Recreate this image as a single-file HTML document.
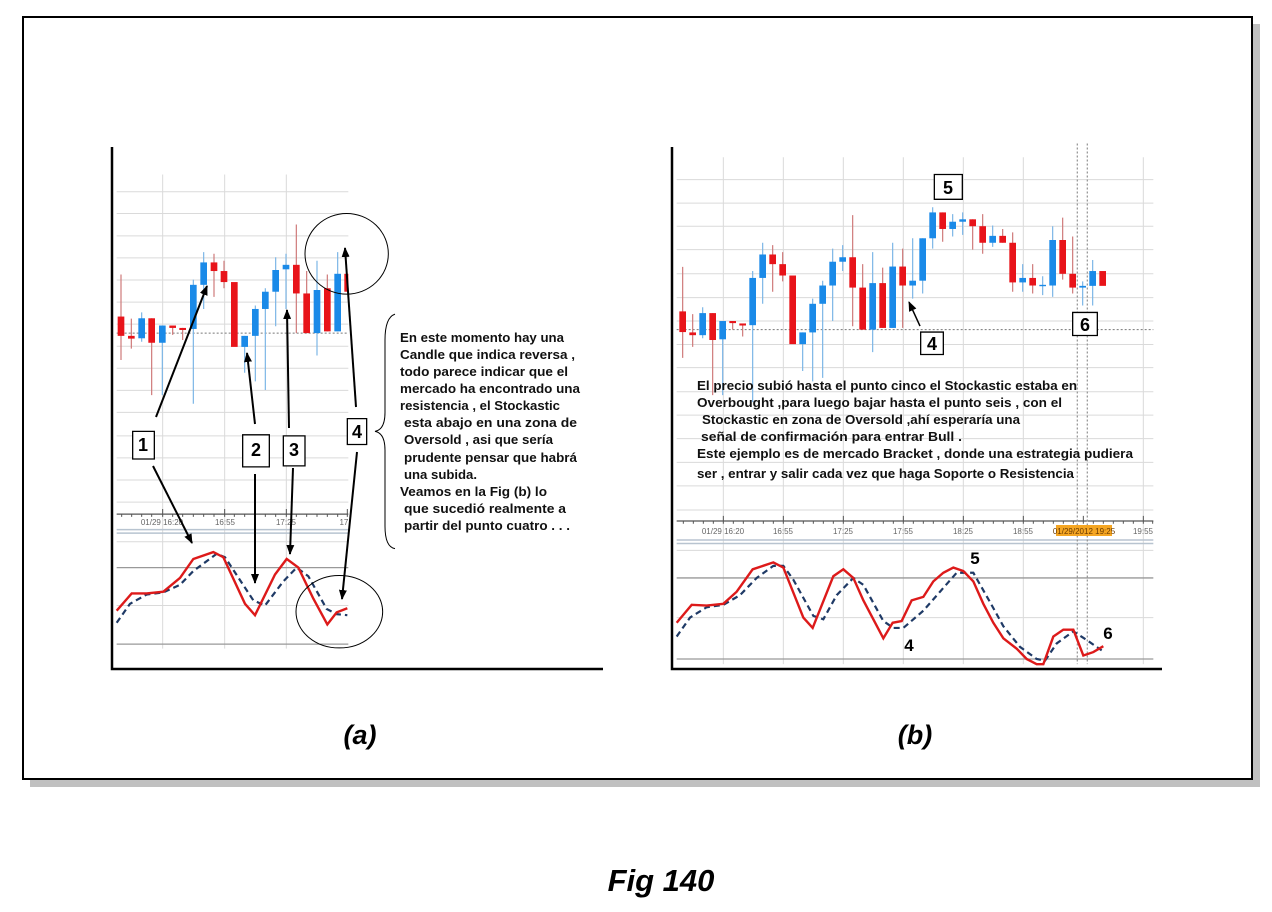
<!DOCTYPE html>
<html><head><meta charset="utf-8"><style>
html,body{margin:0;padding:0;background:#fff;}
svg{display:block;}
text{font-family:"Liberation Sans",Arial,sans-serif;}
</style></head><body>
<svg width="1272" height="912" viewBox="0 0 1272 912" xmlns="http://www.w3.org/2000/svg">
<defs>
<marker id="ah" markerWidth="10" markerHeight="8" refX="9" refY="4" orient="auto" markerUnits="userSpaceOnUse"><path d="M0,0 L10,4 L0,8 z" fill="#000"/></marker>
<clipPath id="cl"><rect x="0" y="0" width="715" height="1600"/></clipPath>
</defs>
<rect x="30" y="24" width="1230" height="763" fill="#c0c0c0"/>
<rect x="23" y="17" width="1229" height="762" fill="#fff" stroke="#000" stroke-width="2"/>

<!-- LEFT CHART -->
<g transform="translate(110,140) scale(0.33333,0.34483)">
<g stroke="#dadada" stroke-width="1" vector-effect="non-scaling-stroke">
<path vector-effect="non-scaling-stroke" d="M20,150H715M20,213H715M20,278H715M20,342H715M20,406H715M20,470H715M20,534H715M20,598H715M20,662H715M20,726H715M20,790H715M20,858H715M20,922H715M20,986H715M20,1050H715M158,100V1475M344,100V1475M529,100V1475M20,1165H715M20,1350H715"/>
</g>
<path vector-effect="non-scaling-stroke" d="M20,1240H715M20,1462H715" stroke="#999" stroke-width="1.3"/>
<path vector-effect="non-scaling-stroke" d="M20,1130H715M20,1140H715" stroke="#b8c4d0" stroke-width="1.5"/>
<path vector-effect="non-scaling-stroke" d="M20,1085H715" stroke="#555" stroke-width="1.2"/>
<path vector-effect="non-scaling-stroke" d="M35,1085v8M65,1085v8M95,1085v8M125,1085v8M158,1070v23M188,1085v8M218,1085v8M250,1085v8M281,1085v8M312,1085v8M344,1070v23M373,1085v8M404,1085v8M436,1085v8M466,1085v8M497,1085v8M529,1070v23M559,1085v8M590,1085v8M621,1085v8M652,1085v8M683,1085v8M712,1070v23" stroke="#555" stroke-width="1"/>
<path vector-effect="non-scaling-stroke" d="M20,560H715" stroke="#777" stroke-width="1" stroke-dasharray="2,2"/>
<g clip-path="url(#cl)">
<g stroke-width="1.2">
<path vector-effect="non-scaling-stroke" stroke="#cf7a7a" d="M33,390V638M64,518V605M125,517V740M188,538V565M218,545V580M312,330V455M342,350V430M559,245V560M590,380V560M652,390V555"/>
<path vector-effect="non-scaling-stroke" stroke="#7cb6e6" d="M95,500V585M157,538V740M250,405V765M281,325V490M404,568V675M436,480V700M466,430V725M497,340V540M528,330V490M621,350V625M683,325V555"/>
</g>
<g fill="#e8141a">
<rect x="23" y="512" width="20" height="56"/><rect x="54" y="568" width="20" height="8"/><rect x="115" y="517" width="20" height="71"/><rect x="178" y="538" width="20" height="7"/><rect x="208" y="545" width="20" height="6"/><rect x="302" y="355" width="20" height="25"/><rect x="332" y="380" width="20" height="32"/><rect x="363" y="412" width="20" height="188"/><rect x="549" y="362" width="20" height="83"/><rect x="580" y="445" width="20" height="115"/><rect x="642" y="430" width="20" height="125"/><rect x="703" y="388" width="20" height="52"/>
</g>
<g fill="#1a8ae8">
<rect x="85" y="517" width="20" height="58"/><rect x="147" y="538" width="20" height="50"/><rect x="240" y="420" width="20" height="128"/><rect x="271" y="355" width="20" height="65"/><rect x="394" y="568" width="20" height="32"/><rect x="426" y="490" width="20" height="78"/><rect x="456" y="440" width="20" height="50"/><rect x="487" y="377" width="20" height="63"/><rect x="518" y="362" width="20" height="13"/><rect x="611" y="435" width="20" height="125"/><rect x="673" y="388" width="20" height="167"/>
</g>
</g>
<polyline vector-effect="non-scaling-stroke" fill="none" stroke="#1f3a66" stroke-width="2.2" stroke-dasharray="6,4" points="20,1400 60,1345 110,1318 160,1312 210,1290 250,1250 320,1200 345,1210 430,1335 465,1350 520,1280 560,1240 595,1265 650,1360 680,1375 712,1378"/>
<polyline vector-effect="non-scaling-stroke" fill="none" stroke="#dd1a1a" stroke-width="2.4" points="20,1365 65,1315 110,1315 160,1310 210,1270 250,1215 310,1195 340,1210 405,1345 435,1378 495,1260 530,1215 565,1240 610,1330 652,1405 680,1370 712,1358"/>
<ellipse vector-effect="non-scaling-stroke" cx="710" cy="330" rx="125" ry="117" fill="none" stroke="#000" stroke-width="1"/>
<ellipse vector-effect="non-scaling-stroke" cx="688" cy="1368" rx="130" ry="105" fill="none" stroke="#000" stroke-width="1"/>
<path vector-effect="non-scaling-stroke" d="M855,505 Q825,515 825,580 L825,790 Q825,840 795,845 Q825,850 825,900 L825,1120 Q825,1180 855,1185" fill="none" stroke="#000" stroke-width="1"/>
<g fill="#fff" stroke="#000" stroke-width="1.3">
<rect vector-effect="non-scaling-stroke" x="68" y="845" width="65" height="80"/>
<rect vector-effect="non-scaling-stroke" x="398" y="855" width="80" height="93"/>
<rect vector-effect="non-scaling-stroke" x="520" y="858" width="65" height="87"/>
<rect vector-effect="non-scaling-stroke" x="712" y="808" width="58" height="75"/>
</g>
</g>
<g font-size="8" fill="#666" text-anchor="middle">
<text x="162" y="525">01/29 16:20</text><text x="225" y="525">16:55</text><text x="286" y="525">17:25</text><text x="345" y="525">17:</text>
</g>
<rect x="349" y="514" width="20" height="14" fill="#fff"/>
<path d="M112,147V669H603" fill="none" stroke="#000" stroke-width="2.5"/>
<g stroke="#000" stroke-width="2" marker-end="url(#ah)">
<line x1="156" y1="417" x2="207" y2="286"/>
<line x1="153" y1="466" x2="192" y2="543"/>
<line x1="255" y1="424" x2="247" y2="353"/>
<line x1="255" y1="474" x2="255" y2="583"/>
<line x1="289" y1="428" x2="287" y2="310"/>
<line x1="293" y1="468" x2="290" y2="554"/>
<line x1="356" y1="407" x2="345" y2="248"/>
<line x1="357" y1="452" x2="342" y2="599"/>
</g>
<g font-size="18" font-weight="bold" text-anchor="middle">
<text x="143" y="451">1</text><text x="256" y="456">2</text><text x="294" y="456">3</text><text x="357" y="438">4</text>
</g>
<g font-size="12.5" font-weight="bold" fill="#111" lengthAdjust="spacingAndGlyphs">
<text x="400" y="342" textLength="164" lengthAdjust="spacingAndGlyphs">En este momento hay una</text>
<text x="400" y="359" textLength="175" lengthAdjust="spacingAndGlyphs">Candle que indica reversa ,</text>
<text x="400" y="376" textLength="168" lengthAdjust="spacingAndGlyphs">todo parece indicar que el</text>
<text x="400" y="393" textLength="180" lengthAdjust="spacingAndGlyphs">mercado ha encontrado una</text>
<text x="400" y="410" textLength="160" lengthAdjust="spacingAndGlyphs">resistencia , el Stockastic</text>
<text x="404" y="427" textLength="173" lengthAdjust="spacingAndGlyphs">esta  abajo en una zona de</text>
<text x="404" y="444" textLength="149" lengthAdjust="spacingAndGlyphs">Oversold , asi que sería</text>
<text x="404" y="462" textLength="173" lengthAdjust="spacingAndGlyphs">prudente pensar que habrá</text>
<text x="404" y="479" textLength="73" lengthAdjust="spacingAndGlyphs">una subida.</text>
<text x="400" y="496" textLength="147" lengthAdjust="spacingAndGlyphs">Veamos en la Fig (b) lo</text>
<text x="404" y="513" textLength="162" lengthAdjust="spacingAndGlyphs">que sucedió realmente  a</text>
<text x="404" y="530" textLength="166" lengthAdjust="spacingAndGlyphs">partir del punto cuatro . . .</text>
</g>

<!-- RIGHT CHART -->
<g transform="translate(670,140) scale(0.33333,0.34483)">
<path vector-effect="non-scaling-stroke" stroke="#dadada" stroke-width="1" d="M20,115H1450M20,183H1450M20,250H1450M20,318H1450M20,388H1450M20,457H1450M20,525H1450M20,593H1450M20,660H1450M20,730H1450M20,798H1450M20,866H1450M20,935H1450M20,1003H1450M20,1073H1450M160,50V1520M340,50V1520M520,50V1520M700,50V1520M880,50V1520M1060,50V1520M1420,50V1520M20,1190H1450M20,1385H1450"/>
<path vector-effect="non-scaling-stroke" d="M20,1270H1450M20,1505H1450" stroke="#999" stroke-width="1.3"/>
<path vector-effect="non-scaling-stroke" d="M20,1160H1450M20,1170H1450" stroke="#b8c4d0" stroke-width="1.5"/>
<path vector-effect="non-scaling-stroke" d="M20,1105H1450" stroke="#555" stroke-width="1.2"/>
<path vector-effect="non-scaling-stroke" d="M40,1105v8M70,1105v8M100,1105v8M130,1105v8M160,1090v23M190,1105v8M220,1105v8M250,1105v8M280,1105v8M310,1105v8M340,1090v23M370,1105v8M400,1105v8M430,1105v8M460,1105v8M490,1105v8M520,1090v23M550,1105v8M580,1105v8M610,1105v8M640,1105v8M670,1105v8M700,1090v23M730,1105v8M760,1105v8M790,1105v8M820,1105v8M850,1105v8M880,1090v23M910,1105v8M940,1105v8M970,1105v8M1000,1105v8M1030,1105v8M1060,1090v23M1090,1105v8M1120,1105v8M1150,1105v8M1180,1105v8M1210,1105v8M1240,1090v23M1270,1105v8M1300,1105v8M1330,1105v8M1360,1105v8M1390,1105v8M1420,1090v23M1448,1105v8" stroke="#555" stroke-width="1"/>
<path vector-effect="non-scaling-stroke" d="M20,550H1450" stroke="#777" stroke-width="1" stroke-dasharray="2,2"/>
<path vector-effect="non-scaling-stroke" d="M1222,10V1520M1252,10V1520" stroke="#999" stroke-width="1.3" stroke-dasharray="2,2"/>
<g stroke-width="1.2">
<path vector-effect="non-scaling-stroke" stroke="#cf7a7a" d="M38,368V632M68,505V600M128,502V740M188,525V550M218,532V570M308,305V440M338,325V410M548,218V540M578,360V550M638,370V545M698,315V545M818,210V295M908,230V318M938,215V330M998,258V298M1028,268V440M1088,360V445M1178,225V405M1208,280V445"/>
<path vector-effect="non-scaling-stroke" stroke="#7cb6e6" d="M98,485V575M158,525V740M248,380V760M278,298V475M398,558V670M428,460V700M458,408V690M488,315V525M518,305V380M608,325V615M668,298V545M728,285V460M758,285V445M788,195V315M848,215V280M878,210V275M968,248V310M1058,360V440M1118,395V450M1148,250V455M1238,410V480M1268,348V480"/>
</g>
<g fill="#e8141a">
<rect x="28" y="497" width="20" height="60"/><rect x="58" y="558" width="20" height="8"/><rect x="118" y="502" width="20" height="78"/><rect x="178" y="525" width="20" height="6"/><rect x="208" y="532" width="20" height="6"/><rect x="298" y="332" width="20" height="28"/><rect x="328" y="360" width="20" height="33"/><rect x="358" y="393" width="20" height="199"/><rect x="538" y="340" width="20" height="88"/><rect x="568" y="428" width="20" height="122"/><rect x="628" y="415" width="20" height="130"/><rect x="688" y="367" width="20" height="55"/><rect x="808" y="210" width="20" height="48"/><rect x="898" y="230" width="20" height="20"/><rect x="928" y="250" width="20" height="48"/><rect x="988" y="278" width="20" height="20"/><rect x="1018" y="298" width="20" height="115"/><rect x="1078" y="400" width="20" height="22"/><rect x="1168" y="290" width="20" height="98"/><rect x="1198" y="388" width="20" height="40"/><rect x="1288" y="380" width="20" height="43"/>
</g>
<g fill="#1a8ae8">
<rect x="88" y="502" width="20" height="64"/><rect x="148" y="525" width="20" height="53"/><rect x="238" y="400" width="20" height="137"/><rect x="268" y="332" width="20" height="68"/><rect x="388" y="558" width="20" height="34"/><rect x="418" y="475" width="20" height="83"/><rect x="448" y="422" width="20" height="53"/><rect x="478" y="353" width="20" height="69"/><rect x="508" y="340" width="20" height="13"/><rect x="598" y="415" width="20" height="135"/><rect x="658" y="367" width="20" height="178"/><rect x="718" y="408" width="20" height="14"/><rect x="748" y="285" width="20" height="123"/><rect x="778" y="210" width="20" height="75"/><rect x="838" y="237" width="20" height="21"/><rect x="868" y="230" width="20" height="7"/><rect x="958" y="278" width="20" height="20"/><rect x="1048" y="400" width="20" height="13"/><rect x="1108" y="420" width="20" height="4"/><rect x="1138" y="290" width="20" height="132"/><rect x="1228" y="423" width="20" height="5"/><rect x="1258" y="380" width="20" height="43"/>
</g>
<polyline vector-effect="non-scaling-stroke" fill="none" stroke="#1f3a66" stroke-width="2.2" stroke-dasharray="6,4" points="20,1440 60,1385 110,1355 160,1348 210,1320 260,1270 310,1235 340,1235 370,1275 430,1380 460,1390 500,1320 550,1270 580,1290 640,1395 670,1415 700,1415 760,1365 810,1310 860,1255 910,1255 960,1340 1000,1410 1050,1470 1100,1505 1125,1510 1160,1460 1210,1425 1250,1450 1295,1480"/>
<polyline vector-effect="non-scaling-stroke" fill="none" stroke="#dd1a1a" stroke-width="2.4" points="20,1400 65,1348 110,1350 160,1345 200,1310 248,1245 310,1225 340,1240 400,1385 428,1415 490,1265 520,1245 550,1270 580,1335 640,1445 668,1400 695,1395 725,1335 760,1325 790,1280 820,1255 850,1240 880,1250 910,1280 940,1345 970,1400 1000,1445 1040,1475 1070,1505 1100,1520 1120,1520 1150,1440 1180,1420 1210,1420 1240,1495 1270,1485 1300,1468"/>
<g fill="#fff" stroke="#000" stroke-width="1.3">
<rect vector-effect="non-scaling-stroke" x="793" y="100" width="84" height="72"/>
<rect vector-effect="non-scaling-stroke" x="752" y="557" width="68" height="65"/>
<rect vector-effect="non-scaling-stroke" x="1208" y="500" width="74" height="67"/>
</g>
</g>
<rect x="1056" y="525" width="56" height="11" fill="#f5a623"/>
<g font-size="8" fill="#666" text-anchor="middle">
<text x="723" y="534">01/29 16:20</text><text x="783" y="534">16:55</text><text x="843" y="534">17:25</text><text x="903" y="534">17:55</text><text x="963" y="534">18:25</text><text x="1023" y="534">18:55</text><text x="1084" y="534" fill="#6a3a00">01/29/2012 19:25</text><text x="1143" y="534">19:55</text>
</g>
<path d="M672,147V669H1162" fill="none" stroke="#000" stroke-width="2.5"/>
<line x1="920" y1="326" x2="909" y2="302" stroke="#000" stroke-width="1.5" marker-end="url(#ah)"/>
<g font-size="18" font-weight="bold" text-anchor="middle">
<text x="948" y="194">5</text><text x="932" y="350">4</text><text x="1085" y="331">6</text>
<text x="975" y="564" font-size="17">5</text><text x="909" y="651" font-size="17">4</text><text x="1108" y="639" font-size="17">6</text>
</g>
<g font-size="12.5" font-weight="bold" fill="#111">
<text x="697" y="390" textLength="380" lengthAdjust="spacingAndGlyphs">El precio subió  hasta el punto cinco el Stockastic estaba en</text>
<text x="697" y="407" textLength="365" lengthAdjust="spacingAndGlyphs">Overbought ,para luego bajar hasta el punto seis  , con el</text>
<text x="702" y="424" textLength="318" lengthAdjust="spacingAndGlyphs">Stockastic en zona de Oversold ,ahí esperaría una</text>
<text x="701" y="441" textLength="261" lengthAdjust="spacingAndGlyphs">señal de confirmación  para entrar  Bull .</text>
<text x="697" y="458" textLength="436" lengthAdjust="spacingAndGlyphs">Este ejemplo es de mercado Bracket ,  donde una estrategia pudiera</text>
<text x="697" y="478" textLength="377" lengthAdjust="spacingAndGlyphs">ser , entrar y salir cada vez que haga Soporte o Resistencia</text>
</g>

<g font-size="27" font-weight="bold" font-style="italic" text-anchor="middle">
<text x="360" y="744">(a)</text>
<text x="915" y="744">(b)</text>
<text x="661" y="891" font-size="31">Fig 140</text>
</g>
</svg>
</body></html>
